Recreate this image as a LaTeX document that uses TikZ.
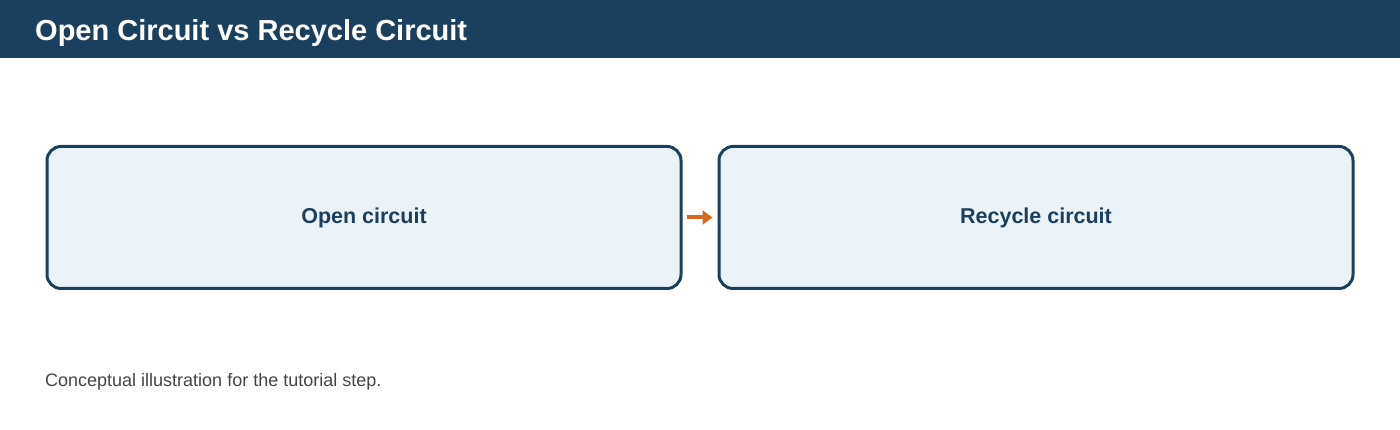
\documentclass[tikz,border=0pt]{standalone}
\usepackage{fontspec}
\setmainfont{Liberation Sans}
\usepackage{xcolor}
\definecolor{headerbg}{HTML}{1A4060}
\definecolor{boxborder}{HTML}{1B3F5E}
\definecolor{boxbg}{HTML}{ECF3F8}
\definecolor{arrowcol}{HTML}{D2691E}
\definecolor{notegray}{HTML}{444444}
\usetikzlibrary{positioning}
\usetikzlibrary{arrows.meta}

\begin{document}
\begin{tikzpicture}[x=1pt,y=-1pt,
      stage style/.style={rectangle,draw=boxborder,fill=boxbg,line width=3pt,
        rounded corners=14pt,minimum width=634pt,minimum height=142pt,
        text=boxborder,font=\fontsize{21.5}{26}\selectfont\bfseries,align=center},
      title style/.style={anchor=west,text=white,font=\fontsize{29}{34}\selectfont\bfseries},
      note style/.style={anchor=west,text=notegray,font=\fontsize{18}{22}\selectfont}
      ]
      \useasboundingbox (0,0) rectangle (1400,430);
      \fill[headerbg] (0,0) rectangle (1400,58);
      \node[title style, inner sep=0pt] (title) at (35,33) {Open Circuit vs Recycle Circuit};

      \node[stage style] (open) at (364,217.5) {Open circuit};
      \node[stage style, right=35pt of open] (recycle) {Recycle circuit};

      \draw[arrowcol,line width=4pt,-{Triangle[length=10pt,width=14pt]},
        shorten <=4pt,shorten >=5pt] (open) -- (recycle);

      \node[note style, inner sep=0pt] (note) at (45,382) {Conceptual illustration for the tutorial step.};
    \end{tikzpicture}
\end{document}
